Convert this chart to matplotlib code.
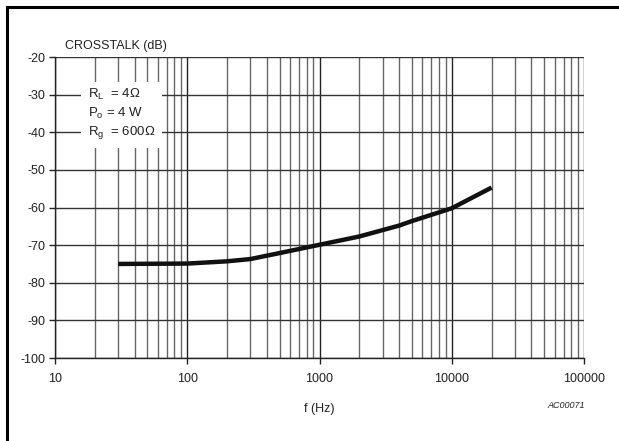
import numpy as np
import matplotlib
matplotlib.use("Agg")
import matplotlib.pyplot as plt
from matplotlib.lines import Line2D

plt.rcParams['font.family'] = ['Liberation Sans', 'DejaVu Sans']

# Datos
freq_hz = [30, 100, 200, 300, 500, 1000, 2000, 3000, 4000, 5000, 10000, 20000]
crosstalk_db = [-75.0, -74.9, -74.3, -73.7, -72.1, -69.9, -67.7, -66.0, -64.8, -63.6, -60.2, -54.7]

y_ticks = [-20, -30, -40, -50, -60, -70, -80, -90, -100]
x_ticks = [10, 100, 1000, 10000, 100000]
x_labels = ['10', '100', '1000', '10000', '100000']

fig = plt.figure(figsize=(6.19, 4.41), dpi=100)
ax = fig.add_axes([0.0889, 0.1882, 0.8546, 0.6825])

ax.set_xscale('log')
ax.set_xlim(10, 100000)
ax.set_ylim(-100, -20)

# Rejilla
for dec in [10, 100, 1000, 10000]:
    for m in range(2, 10):
        ax.axvline(dec * m, color='#666666', lw=1.0, zorder=1)
for xt in x_ticks:
    ax.axvline(xt, color='#222222', lw=1.0, zorder=1)
for yt in y_ticks:
    ax.axhline(yt, color='#333333', lw=1.0, zorder=1)

ax.plot(freq_hz, crosstalk_db, color='#111111', lw=3.2, solid_capstyle='butt',
        solid_joinstyle='round', zorder=3)

for s in ['top', 'right']:
    ax.spines[s].set_visible(False)
for s in ['left', 'bottom']:
    ax.spines[s].set_color('#222222')
    ax.spines[s].set_linewidth(1.0)

ax.set_yticks(y_ticks)
ax.set_yticklabels([str(v) for v in y_ticks])
ax.set_xticks(x_ticks)
ax.set_xticklabels(x_labels)
ax.xaxis.set_minor_locator(matplotlib.ticker.NullLocator())
ax.tick_params(axis='both', direction='out', length=4, width=1.0, color='#222222',
               labelsize=9, labelcolor='#222222', pad=3)
ax.tick_params(axis='x', pad=7)

ax.text(0.019, 1.018, 'CROSSTALK (dB)', transform=ax.transAxes, fontsize=9,
        color='#222222', ha='left', va='bottom')
ax.set_xlabel('f (Hz)', fontsize=9, color='#222222', labelpad=13)
fig.text(0.914, 0.081, 'AC00071', fontsize=6.5, style='italic', color='#222222',
         ha='center', va='center')

# Caja de condiciones
txt = '$\\mathregular{R_L}$  = 4Ω\n$\\mathregular{P_o}$ = 4 W\n$\\mathregular{R_g}$  = 600Ω'
ax.text(0.062, 0.9, txt, transform=ax.transAxes, fontsize=9.5, color='#222222',
        ha='left', va='top', linespacing=1.3, zorder=4,
        bbox=dict(boxstyle='square,pad=0.55', fc='white', ec='none'))

# Marco del documento
fig.add_artist(Line2D([0.0113, 1.0], [0.984, 0.984], color='black', lw=2.2,
                      transform=fig.transFigure))
fig.add_artist(Line2D([0.0113, 0.0113], [0.0, 0.984], color='black', lw=2.2,
                      transform=fig.transFigure))

fig.savefig('out.png', dpi=100)
